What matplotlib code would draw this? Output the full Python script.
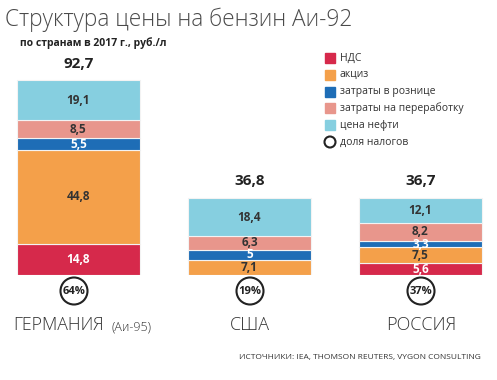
import matplotlib.pyplot as plt
from matplotlib.patches import Rectangle, Circle

countries = ["ГЕРМАНИЯ", "США", "РОССИЯ"]
totals = ["92,7", "36,8", "36,7"]
tax_share = ["64%", "19%", "37%"]
components = ["НДС", "акциз", "затраты в рознице", "затраты на переработку", "цена нефти"]
colors = ["#d6294b", "#f4a04a", "#1e6db6", "#e8968c", "#86cfe0"]
values = {
    "НДС": [14.8, 0.0, 5.6],
    "акциз": [44.8, 7.1, 7.5],
    "затраты в рознице": [5.5, 5.0, 3.3],
    "затраты на переработку": [8.5, 6.3, 8.2],
    "цена нефти": [19.1, 18.4, 12.1],
}
labels = {
    "НДС": ["14,8", "", "5,6"],
    "акциз": ["44,8", "7,1", "7,5"],
    "затраты в рознице": ["5,5", "5", "3,3"],
    "затраты на переработку": ["8,5", "6,3", "8,2"],
    "цена нефти": ["19,1", "18,4", "12,1"],
}
white_txt = ["НДС", "затраты в рознице"]

plt.rcParams['font.family'] = ['Open Sans', 'DejaVu Sans']
fig = plt.figure(figsize=(4.97, 3.8), dpi=100)
W, H = 497, 380
# axes laid out so that baseline sits at y=275px, 2.1 px per rub
ax = fig.add_axes([0, 1 - 275 / H, 1, 210 / H])
ax.set_xlim(-78.5 / 171, (W - 78.5) / 171)
ax.set_ylim(0, 100)
ax.axis("off")

x = [0, 1, 2]
bottom = [0.0, 0.0, 0.0]
for comp, col in zip(components, colors):
    v = values[comp]
    ax.bar(x, v, 0.72, bottom=bottom, color=col, edgecolor="#f3f3f3", linewidth=0.8)
    for i in range(3):
        if v[i] > 0:
            tc = "white" if comp in white_txt else "#333333"
            ax.text(x[i], bottom[i] + v[i] / 2, labels[comp][i], ha="center", va="center",
                    fontsize=8.5, fontweight="bold", color=tc)
    bottom = [b + vi for b, vi in zip(bottom, v)]

for i in range(3):
    ax.text(x[i], bottom[i] + 4.5, totals[i], ha="center", va="bottom",
            fontsize=11, fontweight="bold", color="#222222")

# figure-level annotations in pixel coordinates
ov = fig.add_axes([0, 0, 1, 1])
ov.set_xlim(0, W)
ov.set_ylim(H, 0)
ov.axis("off")
ov.patch.set_alpha(0)

ov.text(5, 20, "Структура цены на бензин Аи-92", fontsize=16.3, fontweight="light",
        color="#4a4a4a", va="center", ha="left")
ov.text(20, 43, "по странам в 2017 г., руб./л", fontsize=7.5, fontweight="bold",
        color="#222222", va="center", ha="left")

ly = 58
for comp, col in zip(components, colors):
    ov.add_patch(Rectangle((325, ly - 5), 10, 10, color=col))
    ov.text(340, ly, comp, fontsize=7.5, color="#333333", va="center", ha="left")
    ly += 16.8
ov.add_patch(Circle((330, ly), 5.5, fill=False, lw=1.5, ec="#222222"))
ov.text(340, ly, "доля налогов", fontsize=7.5, color="#333333", va="center", ha="left")

cx = [74, 250, 421]
for i in range(3):
    ov.add_patch(Circle((cx[i], 291), 13.5, fill=False, lw=1.5, ec="#222222"))
    ov.text(cx[i], 291, tax_share[i], fontsize=8, fontweight="bold", color="#222222",
            ha="center", va="center")

ov.text(13, 325, countries[0], fontsize=12.8, fontweight="light", color="#333333",
        ha="left", va="center")
ov.text(112, 327, "(Аи-95)", fontsize=9, fontweight="light", color="#333333",
        ha="left", va="center")
ov.text(250, 325, countries[1], fontsize=13, fontweight="light", color="#333333",
        ha="center", va="center")
ov.text(421, 325, countries[2], fontsize=13, fontweight="light", color="#333333",
        ha="center", va="center")

ov.text(481, 358, "ИСТОЧНИКИ: IEA, THOMSON REUTERS, VYGON CONSULTING", fontsize=6,
        color="#333333", ha="right", va="center")

fig.savefig("out.png", dpi=100)
